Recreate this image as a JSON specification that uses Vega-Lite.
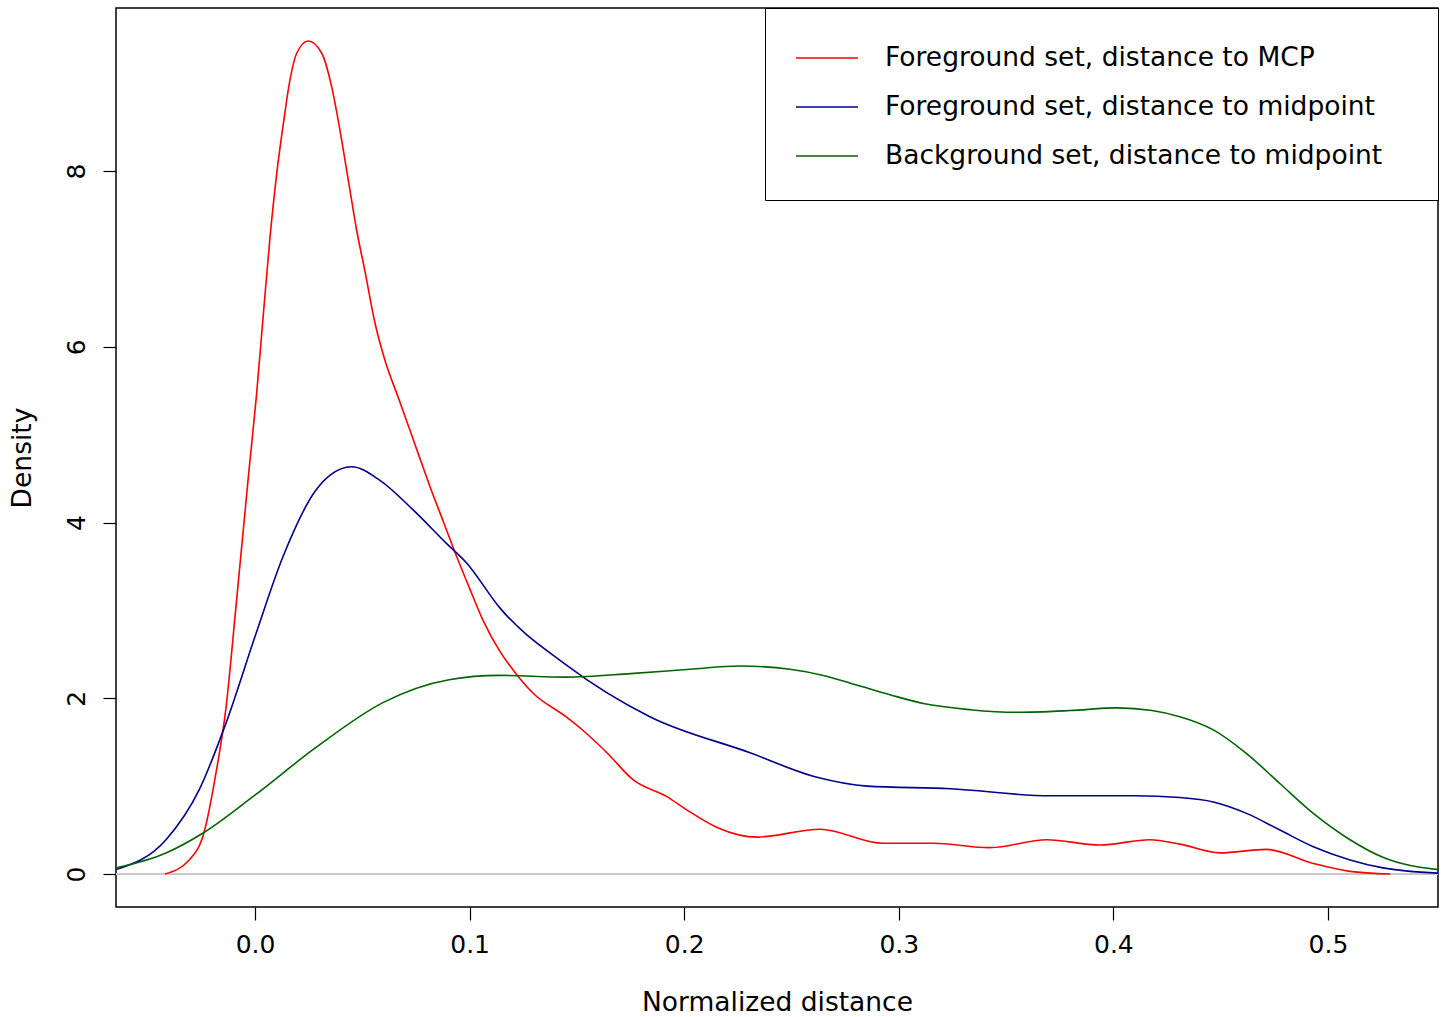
{
  "$schema": "https://vega.github.io/schema/vega-lite/v6.json",
  "width": 1322,
  "height": 899,
  "autosize": {"type": "none"},
  "padding": {"left": 116, "top": 8, "right": 6, "bottom": 110},
  "background": "white",
  "config": {
    "view": {"stroke": "black", "strokeWidth": 1.5},
    "font": "DejaVu Sans",
    "axis": {
      "labelFont": "DejaVu Sans",
      "titleFont": "DejaVu Sans",
      "labelFontSize": 25,
      "titleFontSize": 26.5,
      "labelColor": "black",
      "titleColor": "black",
      "titleFontWeight": "normal",
      "tickColor": "black",
      "tickSize": 13,
      "tickWidth": 1.2,
      "domain": false,
      "grid": false
    }
  },
  "data": {
    "values": [
      {"s": "Foreground set, distance to MCP", "x": -0.042, "y": 0.0},
      {"s": "Foreground set, distance to MCP", "x": -0.0307, "y": 0.16},
      {"s": "Foreground set, distance to MCP", "x": -0.0238, "y": 0.47},
      {"s": "Foreground set, distance to MCP", "x": -0.0182, "y": 1.15},
      {"s": "Foreground set, distance to MCP", "x": -0.0135, "y": 1.9},
      {"s": "Foreground set, distance to MCP", "x": -0.0089, "y": 3.04},
      {"s": "Foreground set, distance to MCP", "x": -0.0028, "y": 4.6},
      {"s": "Foreground set, distance to MCP", "x": 0.0006, "y": 5.43},
      {"s": "Foreground set, distance to MCP", "x": 0.0039, "y": 6.38},
      {"s": "Foreground set, distance to MCP", "x": 0.007, "y": 7.25},
      {"s": "Foreground set, distance to MCP", "x": 0.0101, "y": 7.97},
      {"s": "Foreground set, distance to MCP", "x": 0.0132, "y": 8.54},
      {"s": "Foreground set, distance to MCP", "x": 0.0163, "y": 9.04},
      {"s": "Foreground set, distance to MCP", "x": 0.0194, "y": 9.34},
      {"s": "Foreground set, distance to MCP", "x": 0.0248, "y": 9.48},
      {"s": "Foreground set, distance to MCP", "x": 0.0311, "y": 9.34},
      {"s": "Foreground set, distance to MCP", "x": 0.0357, "y": 8.96},
      {"s": "Foreground set, distance to MCP", "x": 0.0396, "y": 8.46},
      {"s": "Foreground set, distance to MCP", "x": 0.0435, "y": 7.89},
      {"s": "Foreground set, distance to MCP", "x": 0.0474, "y": 7.32},
      {"s": "Foreground set, distance to MCP", "x": 0.0513, "y": 6.85},
      {"s": "Foreground set, distance to MCP", "x": 0.0559, "y": 6.27},
      {"s": "Foreground set, distance to MCP", "x": 0.0606, "y": 5.84},
      {"s": "Foreground set, distance to MCP", "x": 0.0668, "y": 5.42},
      {"s": "Foreground set, distance to MCP", "x": 0.0722, "y": 5.05},
      {"s": "Foreground set, distance to MCP", "x": 0.0774, "y": 4.69},
      {"s": "Foreground set, distance to MCP", "x": 0.0815, "y": 4.41},
      {"s": "Foreground set, distance to MCP", "x": 0.0876, "y": 4.02},
      {"s": "Foreground set, distance to MCP", "x": 0.094, "y": 3.61},
      {"s": "Foreground set, distance to MCP", "x": 0.1, "y": 3.25},
      {"s": "Foreground set, distance to MCP", "x": 0.1062, "y": 2.89},
      {"s": "Foreground set, distance to MCP", "x": 0.1142, "y": 2.53},
      {"s": "Foreground set, distance to MCP", "x": 0.1216, "y": 2.28},
      {"s": "Foreground set, distance to MCP", "x": 0.1295, "y": 2.06},
      {"s": "Foreground set, distance to MCP", "x": 0.1449, "y": 1.79},
      {"s": "Foreground set, distance to MCP", "x": 0.153, "y": 1.63},
      {"s": "Foreground set, distance to MCP", "x": 0.164, "y": 1.38},
      {"s": "Foreground set, distance to MCP", "x": 0.1763, "y": 1.07},
      {"s": "Foreground set, distance to MCP", "x": 0.192, "y": 0.88},
      {"s": "Foreground set, distance to MCP", "x": 0.2012, "y": 0.73},
      {"s": "Foreground set, distance to MCP", "x": 0.2153, "y": 0.53},
      {"s": "Foreground set, distance to MCP", "x": 0.234, "y": 0.42},
      {"s": "Foreground set, distance to MCP", "x": 0.2633, "y": 0.51},
      {"s": "Foreground set, distance to MCP", "x": 0.2926, "y": 0.35},
      {"s": "Foreground set, distance to MCP", "x": 0.316, "y": 0.35},
      {"s": "Foreground set, distance to MCP", "x": 0.3425, "y": 0.3},
      {"s": "Foreground set, distance to MCP", "x": 0.369, "y": 0.39},
      {"s": "Foreground set, distance to MCP", "x": 0.3937, "y": 0.33},
      {"s": "Foreground set, distance to MCP", "x": 0.417, "y": 0.39},
      {"s": "Foreground set, distance to MCP", "x": 0.431, "y": 0.34},
      {"s": "Foreground set, distance to MCP", "x": 0.4497, "y": 0.24},
      {"s": "Foreground set, distance to MCP", "x": 0.4714, "y": 0.28},
      {"s": "Foreground set, distance to MCP", "x": 0.4932, "y": 0.12},
      {"s": "Foreground set, distance to MCP", "x": 0.5103, "y": 0.03},
      {"s": "Foreground set, distance to MCP", "x": 0.529, "y": 0.0},

      {"s": "Foreground set, distance to midpoint", "x": -0.0648, "y": 0.05},
      {"s": "Foreground set, distance to midpoint", "x": -0.0415, "y": 0.39},
      {"s": "Foreground set, distance to midpoint", "x": -0.026, "y": 0.96},
      {"s": "Foreground set, distance to midpoint", "x": -0.0135, "y": 1.72},
      {"s": "Foreground set, distance to midpoint", "x": 0.0005, "y": 2.74},
      {"s": "Foreground set, distance to midpoint", "x": 0.013, "y": 3.61},
      {"s": "Foreground set, distance to midpoint", "x": 0.0284, "y": 4.37},
      {"s": "Foreground set, distance to midpoint", "x": 0.035, "y": 4.54},
      {"s": "Foreground set, distance to midpoint", "x": 0.045, "y": 4.635},
      {"s": "Foreground set, distance to midpoint", "x": 0.0582, "y": 4.48},
      {"s": "Foreground set, distance to midpoint", "x": 0.0738, "y": 4.14},
      {"s": "Foreground set, distance to midpoint", "x": 0.0893, "y": 3.76},
      {"s": "Foreground set, distance to midpoint", "x": 0.0986, "y": 3.54},
      {"s": "Foreground set, distance to midpoint", "x": 0.1137, "y": 3.04},
      {"s": "Foreground set, distance to midpoint", "x": 0.145, "y": 2.38},
      {"s": "Foreground set, distance to midpoint", "x": 0.184, "y": 1.79},
      {"s": "Foreground set, distance to midpoint", "x": 0.2307, "y": 1.38},
      {"s": "Foreground set, distance to midpoint", "x": 0.2619, "y": 1.1},
      {"s": "Foreground set, distance to midpoint", "x": 0.2852, "y": 1.0},
      {"s": "Foreground set, distance to midpoint", "x": 0.324, "y": 0.97},
      {"s": "Foreground set, distance to midpoint", "x": 0.3705, "y": 0.89},
      {"s": "Foreground set, distance to midpoint", "x": 0.41, "y": 0.89},
      {"s": "Foreground set, distance to midpoint", "x": 0.431, "y": 0.87},
      {"s": "Foreground set, distance to midpoint", "x": 0.4466, "y": 0.82},
      {"s": "Foreground set, distance to midpoint", "x": 0.4621, "y": 0.69},
      {"s": "Foreground set, distance to midpoint", "x": 0.4776, "y": 0.5},
      {"s": "Foreground set, distance to midpoint", "x": 0.4932, "y": 0.31},
      {"s": "Foreground set, distance to midpoint", "x": 0.5103, "y": 0.16},
      {"s": "Foreground set, distance to midpoint", "x": 0.5256, "y": 0.07},
      {"s": "Foreground set, distance to midpoint", "x": 0.5513, "y": 0.01},

      {"s": "Background set, distance to midpoint", "x": -0.0648, "y": 0.07},
      {"s": "Background set, distance to midpoint", "x": -0.0415, "y": 0.24},
      {"s": "Background set, distance to midpoint", "x": -0.024, "y": 0.47},
      {"s": "Background set, distance to midpoint", "x": -0.001, "y": 0.88},
      {"s": "Background set, distance to midpoint", "x": 0.0284, "y": 1.44},
      {"s": "Background set, distance to midpoint", "x": 0.0596, "y": 1.95},
      {"s": "Background set, distance to midpoint", "x": 0.0904, "y": 2.21},
      {"s": "Background set, distance to midpoint", "x": 0.1137, "y": 2.26},
      {"s": "Background set, distance to midpoint", "x": 0.145, "y": 2.24},
      {"s": "Background set, distance to midpoint", "x": 0.175, "y": 2.28},
      {"s": "Background set, distance to midpoint", "x": 0.2027, "y": 2.33},
      {"s": "Background set, distance to midpoint", "x": 0.226, "y": 2.367},
      {"s": "Background set, distance to midpoint", "x": 0.2493, "y": 2.33},
      {"s": "Background set, distance to midpoint", "x": 0.2648, "y": 2.26},
      {"s": "Background set, distance to midpoint", "x": 0.2804, "y": 2.15},
      {"s": "Background set, distance to midpoint", "x": 0.2959, "y": 2.04},
      {"s": "Background set, distance to midpoint", "x": 0.3114, "y": 1.94},
      {"s": "Background set, distance to midpoint", "x": 0.3332, "y": 1.87},
      {"s": "Background set, distance to midpoint", "x": 0.355, "y": 1.84},
      {"s": "Background set, distance to midpoint", "x": 0.38, "y": 1.86},
      {"s": "Background set, distance to midpoint", "x": 0.4017, "y": 1.89},
      {"s": "Background set, distance to midpoint", "x": 0.418, "y": 1.86},
      {"s": "Background set, distance to midpoint", "x": 0.431, "y": 1.79},
      {"s": "Background set, distance to midpoint", "x": 0.4466, "y": 1.64},
      {"s": "Background set, distance to midpoint", "x": 0.4621, "y": 1.37},
      {"s": "Background set, distance to midpoint", "x": 0.4776, "y": 1.03},
      {"s": "Background set, distance to midpoint", "x": 0.4932, "y": 0.69},
      {"s": "Background set, distance to midpoint", "x": 0.5103, "y": 0.39},
      {"s": "Background set, distance to midpoint", "x": 0.5256, "y": 0.19},
      {"s": "Background set, distance to midpoint", "x": 0.5513, "y": 0.05}
    ]
  },
  "layer": [
    {
      "mark": {"type": "rule", "color": "#c8c8c8", "strokeWidth": 1},
      "encoding": {"y": {"datum": 0, "type": "quantitative"}}
    },
    {
      "mark": {"type": "line", "interpolate": "monotone", "strokeWidth": 1.6, "clip": true},
      "encoding": {
        "x": {
          "field": "x", "type": "quantitative",
          "scale": {"domain": [-0.0648, 0.5513], "nice": false, "zero": false},
          "axis": {"values": [0, 0.1, 0.2, 0.3, 0.4, 0.5], "format": ".1f", "title": "Normalized distance", "labelPadding": 12, "titlePadding": 32}
        },
        "y": {
          "field": "y", "type": "quantitative",
          "scale": {"domain": [-0.3755, 9.855], "nice": false, "zero": false},
          "axis": {"values": [0, 2, 4, 6, 8], "format": "d", "title": "Density", "labelAngle": -90, "labelAlign": "center", "labelBaseline": "bottom", "labelPadding": 14, "titlePadding": 28}
        },
        "color": {
          "field": "s", "type": "nominal",
          "scale": {
            "domain": ["Foreground set, distance to MCP", "Foreground set, distance to midpoint", "Background set, distance to midpoint"],
            "range": ["#ff0000", "#00008b", "#006400"]
          },
          "legend": {
            "title": "\u00a0",
            "titleOrient": "right",
            "titlePadding": 26,
            "titleFontSize": 26.5,
            "titleFont": "DejaVu Sans",
            "orient": "none",
            "legendX": 649,
            "legendY": 0,
            "strokeColor": "black",
            "fillColor": "white",
            "padding": 30,
            "symbolType": "M-1.63,0L1.63,0",
            "symbolSize": 1444,
            "symbolOffset": 12,
            "symbolStrokeWidth": 1.5,
            "labelFont": "DejaVu Sans",
            "labelFontSize": 26.5,
            "labelColor": "black",
            "labelOffset": 38,
            "labelLimit": 0,
            "rowPadding": 15
          }
        },
        "order": {"field": "x", "type": "quantitative"}
      }
    }
  ]
}
